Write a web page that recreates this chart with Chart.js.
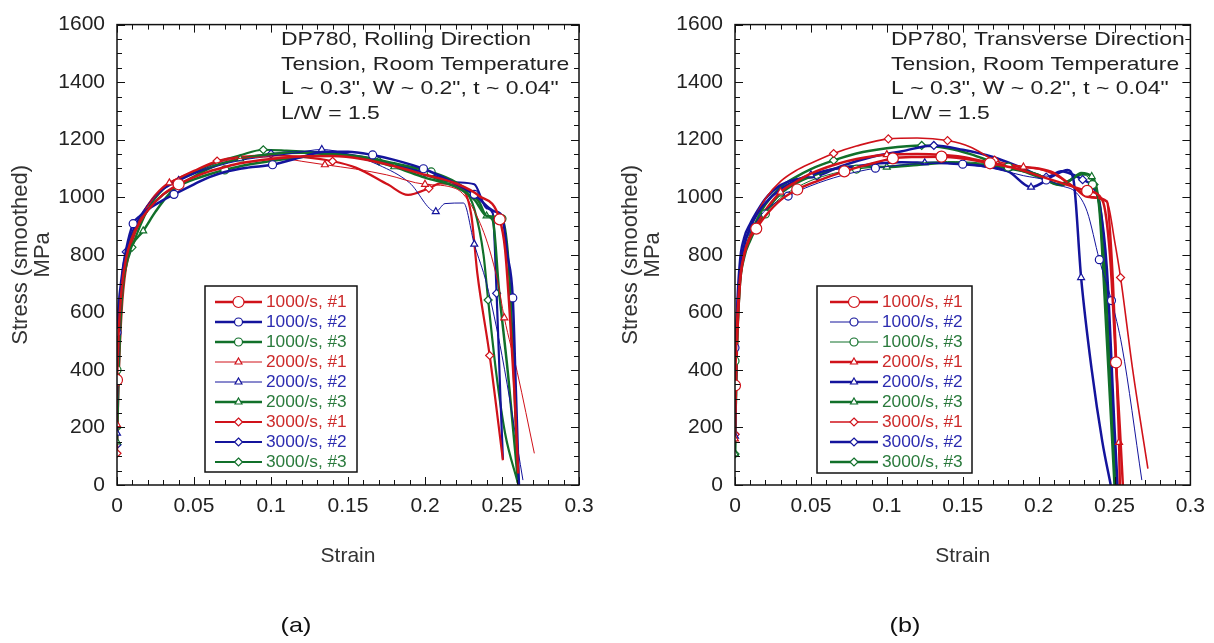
<!DOCTYPE html>
<html>
<head>
<meta charset="utf-8">
<script src="https://cdn.jsdelivr.net/npm/chart.js@4.4.1/dist/chart.umd.min.js"></script>
<style>
  html, body { margin: 0; padding: 0; background: #fff; }
  .panel { position: absolute; top: 0; width: 607px; height: 643px; }
  #left { left: 0; }
  #right { left: 607px; }
</style>
</head>
<body>
<div class="panel" id="left"><canvas id="rdChart" width="607" height="643"></canvas></div>
<div class="panel" id="right"><canvas id="tdChart" width="607" height="643"></canvas></div>
<script>
// ---- data ----
const seriesLabels = ['1000/s, #1', '1000/s, #2', '1000/s, #3',
                      '2000/s, #1', '2000/s, #2', '2000/s, #3',
                      '3000/s, #1', '3000/s, #2', '3000/s, #3'];

const strainTickValues = [0, 0.05, 0.1, 0.15, 0.2, 0.25, 0.3];
const strainTickLabels = ['0', '0.05', '0.1', '0.15', '0.2', '0.25', '0.3'];
const stressTickValues = [0, 200, 400, 600, 800, 1000, 1200, 1400, 1600];
const stressTickLabels = ['0', '200', '400', '600', '800', '1000', '1200', '1400', '1600'];

const rdNote = ['DP780, Rolling Direction', 'Tension, Room Temperature', 'L ~ 0.3", W ~ 0.2", t ~ 0.04"', 'L/W = 1.5'];
const tdNote = ['DP780, Transverse Direction', 'Tension, Room Temperature', 'L ~ 0.3", W ~ 0.2", t ~ 0.04"', 'L/W = 1.5'];

// (a) rolling direction
const rd_1000_1_strain = [0, 0.001, 0.003, 0.006, 0.01, 0.015, 0.02, 0.03, 0.04, 0.05, 0.06, 0.07, 0.08, 0.1, 0.12, 0.14, 0.16, 0.18, 0.2, 0.22, 0.235, 0.2485, 0.252, 0.255, 0.258, 0.2605];
const rd_1000_1_stress = [365, 520, 680, 790, 860, 915, 955, 1010, 1045, 1070, 1090, 1105, 1118, 1133, 1142, 1143, 1132, 1108, 1078, 1048, 1005, 923, 820, 600, 330, 40];
const rd_1000_2_strain = [0, 0.001, 0.003, 0.006, 0.0105, 0.015, 0.02, 0.03, 0.037, 0.05, 0.06, 0.07, 0.085, 0.101, 0.12, 0.135, 0.15, 0.166, 0.18, 0.199, 0.215, 0.232, 0.245, 0.25, 0.2535, 0.257, 0.259, 0.261];
const rd_1000_2_stress = [530, 620, 720, 820, 908, 935, 958, 990, 1010, 1045, 1070, 1088, 1103, 1113, 1140, 1158, 1158, 1147, 1130, 1099, 1060, 1010, 951, 935, 800, 650, 330, 0];
const rd_1000_3_strain = [0, 0.001, 0.003, 0.006, 0.01, 0.015, 0.02, 0.03, 0.04, 0.05, 0.06, 0.07, 0.08, 0.1, 0.12, 0.14, 0.16, 0.18, 0.204, 0.22, 0.235, 0.24, 0.25, 0.254, 0.2575, 0.2604];
const rd_1000_3_stress = [400, 520, 690, 790, 860, 915, 955, 1010, 1040, 1062, 1080, 1095, 1108, 1126, 1140, 1148, 1140, 1118, 1088, 1052, 985, 935, 925, 790, 420, 7];
const rd_2000_1_strain = [0, 0.001, 0.003, 0.006, 0.01, 0.015, 0.02, 0.034, 0.05, 0.065, 0.08, 0.1, 0.12, 0.135, 0.155, 0.175, 0.2, 0.22, 0.237, 0.247, 0.2515, 0.26, 0.271];
const rd_2000_1_stress = [210, 450, 690, 800, 870, 925, 970, 1050, 1090, 1120, 1135, 1140, 1125, 1113, 1098, 1078, 1045, 1030, 894, 712, 581, 390, 110];
const rd_2000_2_strain = [0, 0.001, 0.003, 0.006, 0.01, 0.015, 0.02, 0.03, 0.04, 0.05, 0.065, 0.08, 0.1, 0.115, 0.133, 0.15, 0.17, 0.19, 0.207, 0.213, 0.225, 0.232, 0.24, 0.25, 0.2636];
const rd_2000_2_stress = [180, 420, 660, 790, 875, 930, 975, 1028, 1058, 1082, 1108, 1128, 1143, 1153, 1166, 1150, 1112, 1050, 950, 978, 980, 837, 700, 450, 17];
const rd_2000_3_strain = [0, 0.001, 0.003, 0.006, 0.01, 0.017, 0.025, 0.035, 0.05, 0.065, 0.08, 0.1, 0.12, 0.14, 0.16, 0.18, 0.2, 0.22, 0.232, 0.24, 0.244, 0.248, 0.254, 0.2604];
const rd_2000_3_stress = [150, 380, 640, 770, 835, 883, 950, 1018, 1072, 1112, 1133, 1150, 1155, 1150, 1135, 1106, 1068, 1036, 992, 935, 920, 680, 380, 10];
const rd_3000_1_strain = [0, 0.001, 0.003, 0.006, 0.01, 0.015, 0.02, 0.03, 0.04, 0.05, 0.065, 0.08, 0.1, 0.12, 0.14, 0.155, 0.176, 0.189, 0.2025, 0.21, 0.222, 0.23, 0.234, 0.242, 0.2506];
const rd_3000_1_stress = [110, 350, 600, 760, 850, 922, 972, 1035, 1066, 1092, 1126, 1140, 1146, 1140, 1125, 1103, 1044, 1008, 1031, 1048, 1036, 940, 735, 450, 86];
const rd_3000_2_strain = [0, 0.001, 0.003, 0.006, 0.01, 0.015, 0.02, 0.03, 0.04, 0.05, 0.065, 0.08, 0.1, 0.12, 0.14, 0.16, 0.18, 0.2, 0.22, 0.232, 0.24, 0.244, 0.2465, 0.249, 0.2506];
const rd_3000_2_stress = [140, 450, 700, 810, 880, 932, 972, 1028, 1058, 1083, 1113, 1133, 1150, 1158, 1155, 1140, 1115, 1086, 1052, 1045, 962, 945, 666, 300, 90];
const rd_3000_3_strain = [0, 0.001, 0.003, 0.006, 0.0097, 0.015, 0.02, 0.03, 0.04, 0.05, 0.065, 0.08, 0.095, 0.11, 0.13, 0.15, 0.17, 0.19, 0.21, 0.225, 0.232, 0.238, 0.241, 0.246, 0.252, 0.2604];
const rd_3000_3_stress = [200, 420, 650, 760, 826, 900, 958, 1028, 1062, 1088, 1122, 1146, 1165, 1162, 1156, 1146, 1126, 1096, 1060, 1030, 960, 800, 643, 400, 180, 5];

// (b) transverse direction
const td_1000_1_strain = [0, 0.001, 0.003, 0.006, 0.01, 0.014, 0.02, 0.03, 0.041, 0.055, 0.072, 0.085, 0.104, 0.12, 0.136, 0.15, 0.168, 0.185, 0.2, 0.215, 0.232, 0.242, 0.247, 0.251, 0.2535, 0.2555];
const td_1000_1_stress = [346, 520, 700, 800, 860, 891, 935, 990, 1027, 1058, 1090, 1110, 1135, 1140, 1141, 1135, 1118, 1100, 1075, 1050, 1022, 990, 800, 426, 200, 0];
const td_1000_2_strain = [0, 0.001, 0.003, 0.006, 0.01, 0.015, 0.02, 0.035, 0.05, 0.07, 0.0925, 0.11, 0.13, 0.15, 0.17, 0.19, 0.205, 0.215, 0.225, 0.232, 0.24, 0.248, 0.255, 0.268];
const td_1000_2_stress = [477, 600, 740, 830, 880, 922, 955, 1004, 1040, 1075, 1101, 1112, 1118, 1115, 1100, 1075, 1060, 1040, 1015, 950, 783, 641, 480, 17];
const td_1000_3_strain = [0, 0.001, 0.003, 0.006, 0.01, 0.015, 0.02, 0.03, 0.04, 0.05, 0.065, 0.08, 0.1, 0.12, 0.14, 0.16, 0.18, 0.2, 0.215, 0.228, 0.2355, 0.24, 0.244, 0.248, 0.25];
const td_1000_3_stress = [431, 560, 700, 800, 850, 900, 942, 998, 1032, 1058, 1083, 1098, 1108, 1118, 1124, 1120, 1105, 1080, 1040, 1080, 1044, 950, 600, 250, 0];
const td_2000_1_strain = [0, 0.001, 0.003, 0.006, 0.01, 0.015, 0.02, 0.03, 0.04, 0.05, 0.065, 0.08, 0.1, 0.12, 0.135, 0.15, 0.17, 0.19, 0.2, 0.21, 0.222, 0.235, 0.245, 0.249, 0.252, 0.253, 0.2535];
const td_2000_1_stress = [160, 430, 680, 800, 862, 912, 955, 1018, 1053, 1082, 1112, 1133, 1148, 1150, 1148, 1140, 1118, 1105, 1100, 1085, 1040, 1000, 985, 700, 300, 148, 0];
const td_2000_2_strain = [0, 0.001, 0.003, 0.006, 0.01, 0.015, 0.02, 0.03, 0.04, 0.05, 0.065, 0.08, 0.095, 0.11, 0.125, 0.14, 0.16, 0.18, 0.195, 0.21, 0.219, 0.223, 0.228, 0.235, 0.242, 0.2475];
const td_2000_2_stress = [170, 500, 720, 830, 895, 945, 980, 1028, 1058, 1078, 1098, 1108, 1118, 1122, 1120, 1118, 1110, 1090, 1035, 1075, 1095, 1060, 721, 400, 150, 0];
const td_2000_3_strain = [0, 0.001, 0.003, 0.006, 0.01, 0.015, 0.02, 0.03, 0.04, 0.05, 0.065, 0.08, 0.1, 0.12, 0.14, 0.16, 0.18, 0.2, 0.212, 0.222, 0.228, 0.235, 0.24, 0.245, 0.25];
const td_2000_3_stress = [108, 420, 680, 790, 850, 902, 948, 1012, 1048, 1072, 1098, 1108, 1105, 1112, 1120, 1115, 1100, 1078, 1045, 1062, 1084, 1072, 960, 500, 0];
const td_3000_1_strain = [0, 0.001, 0.003, 0.006, 0.01, 0.015, 0.02, 0.03, 0.04, 0.05, 0.065, 0.08, 0.101, 0.12, 0.14, 0.155, 0.171, 0.185, 0.2, 0.21, 0.222, 0.232, 0.245, 0.25, 0.254, 0.262, 0.272];
const td_3000_1_stress = [176, 480, 720, 830, 890, 948, 995, 1055, 1092, 1118, 1152, 1178, 1203, 1206, 1197, 1175, 1129, 1110, 1098, 1080, 1040, 1000, 985, 850, 721, 400, 57];
const td_3000_2_strain = [0, 0.001, 0.003, 0.006, 0.01, 0.015, 0.02, 0.03, 0.04, 0.054, 0.07, 0.09, 0.11, 0.131, 0.15, 0.17, 0.19, 0.205, 0.215, 0.222, 0.229, 0.235, 0.24, 0.245, 0.25, 0.252];
const td_3000_2_stress = [176, 530, 760, 858, 908, 955, 995, 1042, 1062, 1073, 1108, 1140, 1160, 1180, 1165, 1140, 1100, 1070, 1090, 1080, 1061, 1040, 980, 750, 200, 0];
const td_3000_3_strain = [0, 0.001, 0.003, 0.006, 0.01, 0.015, 0.02, 0.03, 0.04, 0.05, 0.065, 0.08, 0.1, 0.123, 0.14, 0.155, 0.172, 0.19, 0.205, 0.215, 0.225, 0.232, 0.2365, 0.242, 0.248, 0.251];
const td_3000_3_stress = [108, 430, 690, 800, 868, 928, 975, 1035, 1070, 1098, 1128, 1152, 1170, 1180, 1170, 1150, 1118, 1090, 1060, 1042, 1075, 1080, 1044, 900, 300, 0];

// ---- styling ----
const FONT = "'Liberation Sans', Arial, Helvetica, sans-serif";
Chart.defaults.font.family = FONT;

const RED = '#d0121a', BLUE = '#14149c', GREEN = '#11702a';
const lineColors = [RED, BLUE, GREEN, RED, BLUE, GREEN, RED, BLUE, GREEN];
const textColors = ['#cc2a2a', '#2c2cb0', '#2a7a3c', '#cc2a2a', '#2c2cb0', '#2a7a3c', '#cc2a2a', '#2c2cb0', '#2a7a3c'];
const markerShapes = ['circle', 'circle', 'circle', 'triangle', 'triangle', 'triangle', 'rectRot', 'rectRot', 'rectRot'];

const rdWidths = [2.5, 2.5, 2.5, 1, 1, 2.5, 2.2, 2.2, 2.2];
const tdWidths = [2.5, 1, 1, 2.5, 2.5, 2.5, 1.6, 2.5, 2.5];

// which points carry a marker
const rdMarks = [[0, 8, 21], [0, 4, 8, 13, 17, 19, 21, 25], [0, 11, 18, 22], [0, 7, 13, 16, 20],
                 [0, 8, 14, 18, 21], [0, 5, 10, 15, 19], [0, 10, 14, 18, 23], [0, 3, 12, 17, 22], [0, 4, 12, 16, 22]];
const tdMarks = [[0, 5, 8, 10, 12, 14, 16, 20, 23], [0, 7, 10, 13, 16, 20, 21], [0, 6, 11, 16, 20], [0, 7, 12, 17, 25],
                 [0, 9, 14, 18, 22], [0, 7, 12, 16, 21], [0, 10, 12, 14, 16, 24], [0, 9, 13, 17, 20], [0, 10, 13, 16, 22]];

function markerSize(i) { return i === 0 ? 5.5 : 4; }

function buildDatasets(strains, stresses, widths, marks) {
  return seriesLabels.map((label, i) => ({
    label,
    data: strains[i].map((x, k) => ({ x, y: stresses[i][k] })),
    borderColor: lineColors[i],
    borderWidth: widths[i],
    pointStyle: markerShapes[i],
    pointRadius: ctx => marks[i].includes(ctx.dataIndex) ? markerSize(i) : 0,
    pointHoverRadius: 0,
    pointBackgroundColor: '#fff',
    pointBorderColor: lineColors[i],
    pointBorderWidth: 1.2,
    cubicInterpolationMode: 'monotone',
    fill: false
  }));
}

function stretchText(ctx, text, x, y, sx) {
  ctx.save();
  ctx.translate(x, y);
  ctx.scale(sx, 1);
  ctx.fillText(text, 0, 0);
  ctx.restore();
}

function drawMarker(ctx, shape, x, y, r) {
  ctx.beginPath();
  if (shape === 'circle') {
    ctx.arc(x, y, r, 0, Math.PI * 2);
  } else if (shape === 'triangle') {
    ctx.moveTo(x, y - r);
    ctx.lineTo(x + r * 0.866, y + r * 0.5);
    ctx.lineTo(x - r * 0.866, y + r * 0.5);
    ctx.closePath();
  } else {
    ctx.moveTo(x, y - r);
    ctx.lineTo(x + r, y);
    ctx.lineTo(x, y + r);
    ctx.lineTo(x - r, y);
    ctx.closePath();
  }
  ctx.fill();
  ctx.stroke();
}

function framePlugin(g) {
  return {
    id: 'frame',
    afterDraw(chart) {
      const { ctx, chartArea: a, scales: { x, y } } = chart;
      ctx.save();

      // box + inward ticks on all four sides
      ctx.strokeStyle = '#111';
      ctx.lineWidth = 1.5;
      ctx.strokeRect(a.left, a.top, a.right - a.left, a.bottom - a.top);
      ctx.lineWidth = 1;
      ctx.beginPath();
      for (let i = 0; i <= 30; i++) {
        const px = Math.round(x.getPixelForValue(i / 100)) + 0.5;
        const len = i % 5 === 0 ? 8 : 5;
        ctx.moveTo(px, a.bottom); ctx.lineTo(px, a.bottom - len);
        ctx.moveTo(px, a.top); ctx.lineTo(px, a.top + len);
      }
      for (let i = 0; i <= 32; i++) {
        const py = Math.round(y.getPixelForValue(i * 50)) + 0.5;
        const len = i % 4 === 0 ? 8 : 5;
        ctx.moveTo(a.left, py); ctx.lineTo(a.left + len, py);
        ctx.moveTo(a.right, py); ctx.lineTo(a.right - len, py);
      }
      ctx.stroke();

      // note text in the upper right
      ctx.fillStyle = '#222';
      ctx.font = '18.5px ' + FONT;
      ctx.textBaseline = 'middle';
      ctx.textAlign = 'left';
      g.note.forEach((t, k) => stretchText(ctx, t, g.noteX, 40 + k * 24.5, 1.24));

      // legend box
      const L = g.legend;
      ctx.fillStyle = '#fff';
      ctx.fillRect(L.x, L.y, L.w, L.h);
      ctx.strokeStyle = '#111';
      ctx.lineWidth = 1.5;
      ctx.strokeRect(L.x, L.y, L.w, L.h);
      ctx.font = '16px ' + FONT;
      seriesLabels.forEach((label, i) => {
        const ry = L.row0 + i * 20;
        ctx.strokeStyle = lineColors[i];
        ctx.lineWidth = g.widths[i];
        ctx.beginPath();
        ctx.moveTo(L.line0, ry); ctx.lineTo(L.line1, ry);
        ctx.stroke();
        ctx.lineWidth = 1.2;
        ctx.fillStyle = '#fff';
        drawMarker(ctx, markerShapes[i], (L.line0 + L.line1) / 2, ry, markerSize(i));
        ctx.fillStyle = textColors[i];
        stretchText(ctx, label, L.textX, ry + 1, 1.08);
      });

      // panel tag
      ctx.fillStyle = '#111';
      ctx.font = '21px ' + FONT;
      ctx.textAlign = 'center';
      stretchText(ctx, g.tag, g.tagX, 626, 1.2);
      ctx.restore();
    }
  };
}

function makeChart(id, strains, stresses, widths, marks, g) {
  g.widths = widths;
  new Chart(document.getElementById(id), {
    type: 'line',
    data: { datasets: buildDatasets(strains, stresses, widths, marks) },
    options: {
      responsive: false,
      animation: false,
      devicePixelRatio: 1,
      events: [],
      layout: { padding: { left: 0, right: g.padRight, top: 20, bottom: 0 } },
      plugins: { legend: { display: false }, tooltip: { enabled: false } },
      scales: {
        x: {
          type: 'linear', min: 0, max: 0.3,
          afterFit: s => { s.height = 158; },
          grid: { display: false, drawTicks: false },
          border: { display: false },
          ticks: {
            stepSize: 0.05, padding: 9, color: '#222', font: { size: 21 }, maxRotation: 0, autoSkip: false,
            callback: v => {
              const k = strainTickValues.findIndex(t => Math.abs(t - v) < 1e-6);
              return k < 0 ? '' : strainTickLabels[k];
            }
          },
          title: { display: true, text: 'Strain', color: '#333', font: { size: 21, lineHeight: 1 }, padding: { top: 0, bottom: 76 } }
        },
        y: {
          type: 'linear', min: 0, max: 1600,
          afterFit: s => { s.width = g.axisWidth; },
          grid: { display: false, drawTicks: false },
          border: { display: false },
          ticks: {
            stepSize: 200, padding: 12, color: '#222', font: { size: 21 },
            callback: v => {
              const k = stressTickValues.indexOf(v);
              return k < 0 ? '' : stressTickLabels[k];
            }
          },
          title: { display: true, text: ['Stress (smoothed)', 'MPa'], color: '#333', font: { size: 22, lineHeight: 1 }, padding: { top: g.titlePad, bottom: 0 } }
        }
      }
    },
    plugins: [framePlugin(g)]
  });
}

makeChart('rdChart',
  [rd_1000_1_strain, rd_1000_2_strain, rd_1000_3_strain, rd_2000_1_strain, rd_2000_2_strain, rd_2000_3_strain, rd_3000_1_strain, rd_3000_2_strain, rd_3000_3_strain],
  [rd_1000_1_stress, rd_1000_2_stress, rd_1000_3_stress, rd_2000_1_stress, rd_2000_2_stress, rd_2000_3_stress, rd_3000_1_stress, rd_3000_2_stress, rd_3000_3_stress],
  rdWidths, rdMarks,
  { axisWidth: 117, padRight: 28, titlePad: 10, note: rdNote, noteX: 281, tag: '(a)', tagX: 296,
    legend: { x: 205, y: 286, w: 152, h: 186, line0: 215, line1: 262, textX: 266, row0: 302 } });

makeChart('tdChart',
  [td_1000_1_strain, td_1000_2_strain, td_1000_3_strain, td_2000_1_strain, td_2000_2_strain, td_2000_3_strain, td_3000_1_strain, td_3000_2_strain, td_3000_3_strain],
  [td_1000_1_stress, td_1000_2_stress, td_1000_3_stress, td_2000_1_stress, td_2000_2_stress, td_2000_3_stress, td_3000_1_stress, td_3000_2_stress, td_3000_3_stress],
  tdWidths, tdMarks,
  { axisWidth: 128, padRight: 21, titlePad: 13, note: tdNote, noteX: 284, tag: '(b)', tagX: 298,
    legend: { x: 210, y: 286, w: 155, h: 187, line0: 223, line1: 271, textX: 275, row0: 302 } });
</script>
</body>
</html>
